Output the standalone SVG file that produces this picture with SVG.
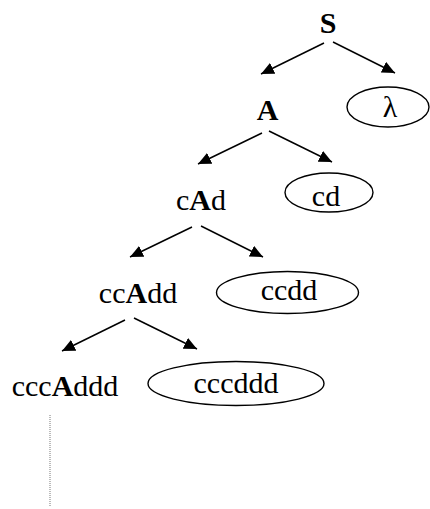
<svg xmlns="http://www.w3.org/2000/svg" width="430" height="509" viewBox="0 0 430 509">
<defs>
<marker id="ah" markerUnits="userSpaceOnUse" markerWidth="14" markerHeight="12" refX="13" refY="6" orient="auto">
<path d="M0,0 L13,6 L0,12 z" fill="#000"/>
</marker>
<style>
text{font-family:"Liberation Serif","Times New Roman",serif;font-size:30px;fill:#000;text-anchor:middle}
.b{font-weight:bold}
ellipse{fill:none;stroke:#000;stroke-width:1.4}
.e line{stroke:#000;stroke-width:1.5;marker-end:url(#ah)}
</style>
</defs>
<g id="edges" class="e">
<line x1="324" y1="43" x2="261" y2="74"/>
<line x1="333" y1="42" x2="395" y2="73"/>
<line x1="262" y1="133" x2="198" y2="164"/>
<line x1="269" y1="131" x2="332" y2="162"/>
<line x1="192" y1="227" x2="130" y2="257"/>
<line x1="201" y1="226" x2="263" y2="257"/>
<line x1="125" y1="320" x2="62" y2="351"/>
<line x1="134" y1="318" x2="197" y2="349"/>
<line x1="50" y1="415" x2="50" y2="507" style="stroke:#777;stroke-width:1;stroke-dasharray:1 1;marker-end:none"/>
</g>
<g id="nS"><text x="328" y="33" class="b">S</text></g>
<g id="nA"><text x="267.5" y="120" class="b">A</text></g>
<g id="nLambda"><ellipse cx="388" cy="107" rx="41" ry="20"/><text x="390" y="117">λ</text></g>
<g id="ncAd"><text x="201" y="210">c<tspan class="b">A</tspan>d</text></g>
<g id="ncd"><ellipse cx="329" cy="192.5" rx="44" ry="19.5"/><text x="326" y="206">cd</text></g>
<g id="nccAdd"><text x="138" y="303">cc<tspan class="b">A</tspan>dd</text></g>
<g id="nccdd"><ellipse cx="287.5" cy="292.5" rx="71" ry="21"/><text x="289" y="300">ccdd</text></g>
<g id="ncccAddd"><text x="65" y="396">ccc<tspan class="b">A</tspan>ddd</text></g>
<g id="ncccddd"><ellipse cx="236" cy="383.5" rx="88" ry="22"/><text x="236" y="393">cccddd</text></g>
</svg>
